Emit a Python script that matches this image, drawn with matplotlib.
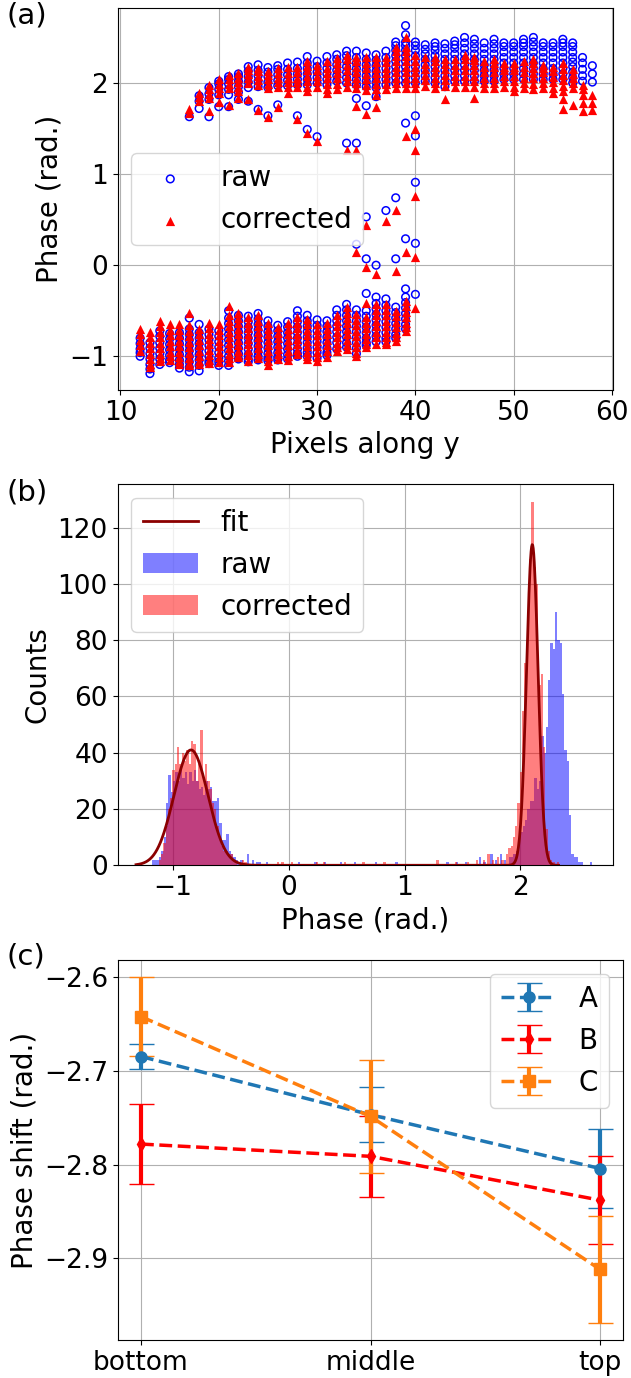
import matplotlib
matplotlib.use("Agg")
import matplotlib.pyplot as plt
import numpy as np

# ---------------- panel (a): phase per pixel column ----------------
cols_lower = list(range(12, 41))
raw_lower = [
    [-0.80, -0.86, -0.92, -0.96, -1.00],
    [-0.85, -0.91, -0.97, -1.03, -1.09, -1.14, -1.19],
    [-0.72, -0.78, -0.85, -0.91, -0.97, -1.03, -1.09],
    [-0.75, -0.81, -0.87, -0.93, -0.99, -1.04, -1.07],
    [-0.74, -0.80, -0.86, -0.92, -0.98, -1.04, -1.09, -1.13],
    [-0.58, -0.70, -0.76, -0.82, -0.88, -0.94, -1.00, -1.06, -1.12, -1.17],
    [-0.65, -0.74, -0.80, -0.86, -0.92, -0.98, -1.04, -1.10, -1.16],
    [-0.70, -0.76, -0.82, -0.88, -0.94, -1.00, -1.05, -1.08],
    [-0.72, -0.78, -0.84, -0.90, -0.96, -1.02, -1.06, -1.10],
    [-0.50, -0.58, -0.64, -0.70, -0.76, -0.82, -0.88, -0.94, -1.00, -1.05, -1.10],
    [-0.55, -0.61, -0.67, -0.73, -0.79, -0.85, -0.91, -0.97, -1.03],
    [-0.56, -0.62, -0.68, -0.74, -0.80, -0.86, -0.92, -0.98, -1.03, -1.06],
    [-0.53, -0.59, -0.65, -0.71, -0.77, -0.83, -0.89, -0.95, -1.00, -1.04],
    [-0.61, -0.67, -0.73, -0.79, -0.85, -0.91, -0.97, -1.02, -1.05],
    [-0.66, -0.72, -0.78, -0.84, -0.90, -0.96, -1.01, -1.04],
    [-0.62, -0.68, -0.74, -0.80, -0.86, -0.92, -0.98, -1.03],
    [-0.50, -0.56, -0.62, -0.68, -0.74, -0.80, -0.86, -0.92, -0.97, -1.00],
    [-0.55, -0.61, -0.67, -0.73, -0.79, -0.85, -0.91, -0.96, -1.00],
    [-0.60, -0.66, -0.72, -0.78, -0.84, -0.90, -0.96, -1.02],
    [-0.61, -0.67, -0.73, -0.79, -0.85, -0.91, -0.96, -0.99],
    [-0.49, -0.55, -0.61, -0.67, -0.73, -0.79, -0.85, -0.92],
    [-0.43, -0.49, -0.55, -0.61, -0.67, -0.73, -0.79, -0.85, -0.90],
    [-0.49, -0.55, -0.61, -0.67, -0.73, -0.79, -0.85, -0.91, -0.97],
    [-0.31, -0.50, -0.56, -0.62, -0.68, -0.74, -0.80, -0.85, -0.88],
    [-0.35, -0.42, -0.48, -0.54, -0.60, -0.66, -0.72, -0.78, -0.84],
    [-0.37, -0.44, -0.50, -0.56, -0.62, -0.68, -0.74, -0.80, -0.84],
    [-0.46, -0.52, -0.58, -0.64, -0.70, -0.76, -0.80],
    [-0.26, -0.35, -0.41, -0.47, -0.53, -0.59, -0.65, -0.70],
    [-0.32],
]
cor_lower = [
    [-0.70, -0.76, -0.82, -0.88, -0.94],
    [-0.73, -0.79, -0.85, -0.91, -0.97, -1.03, -1.08, -1.12],
    [-0.61, -0.67, -0.73, -0.79, -0.85, -0.91, -0.97, -1.02, -1.05],
    [-0.65, -0.71, -0.77, -0.83, -0.89, -0.95, -1.00, -1.04],
    [-0.65, -0.71, -0.77, -0.83, -0.89, -0.95, -1.01, -1.05, -1.08],
    [-0.53, -0.66, -0.72, -0.78, -0.84, -0.90, -0.96, -1.02, -1.07, -1.10],
    [-0.70, -0.76, -0.82, -0.88, -0.94, -1.00, -1.05, -1.08],
    [-0.63, -0.69, -0.75, -0.81, -0.87, -0.93, -0.99, -1.04, -1.07],
    [-0.65, -0.71, -0.77, -0.83, -0.89, -0.95, -1.01, -1.06],
    [-0.45, -0.55, -0.61, -0.67, -0.73, -0.79, -0.85, -0.91, -0.97, -1.02, -1.06],
    [-0.52, -0.58, -0.64, -0.70, -0.76, -0.82, -0.88, -0.94, -0.99, -1.01],
    [-0.57, -0.63, -0.69, -0.75, -0.81, -0.87, -0.93, -0.99, -1.05],
    [-0.55, -0.61, -0.67, -0.73, -0.79, -0.85, -0.91, -0.97, -1.02],
    [-0.64, -0.70, -0.76, -0.82, -0.88, -0.94, -1.00, -1.05, -1.10],
    [-0.68, -0.74, -0.80, -0.86, -0.92, -0.98, -1.03],
    [-0.64, -0.70, -0.76, -0.82, -0.88, -0.94, -1.00, -1.04],
    [-0.57, -0.63, -0.69, -0.75, -0.81, -0.87, -0.93, -0.98],
    [-0.59, -0.65, -0.71, -0.77, -0.83, -0.89, -0.95, -1.00, -1.03],
    [-0.65, -0.71, -0.77, -0.83, -0.89, -0.95, -1.01, -1.05],
    [-0.64, -0.70, -0.76, -0.82, -0.88, -0.94, -1.01],
    [-0.55, -0.61, -0.67, -0.73, -0.79, -0.85, -0.90, -0.94],
    [-0.46, -0.52, -0.58, -0.64, -0.70, -0.76, -0.82, -0.88, -0.92],
    [-0.54, -0.60, -0.66, -0.72, -0.78, -0.84, -0.90, -0.96, -1.00],
    [-0.41, -0.57, -0.63, -0.69, -0.75, -0.81, -0.86, -0.90],
    [-0.43, -0.49, -0.55, -0.61, -0.67, -0.73, -0.79, -0.86],
    [-0.43, -0.49, -0.55, -0.61, -0.67, -0.73, -0.79, -0.84, -0.87],
    [-0.50, -0.56, -0.62, -0.68, -0.74, -0.79, -0.83],
    [-0.39, -0.45, -0.51, -0.57, -0.63, -0.68, -0.72],
    [-0.47],
]

cols_upper = list(range(17, 59))
raw_upper = [
    [1.63],
    [1.72, 1.80, 1.86],
    [1.63, 1.82, 1.88, 1.95],
    [1.74, 1.87, 1.93, 1.99, 2.02],
    [1.74, 1.87, 1.93, 1.99, 2.04, 2.07],
    [1.82, 1.90, 1.96, 2.02, 2.07, 2.10],
    [1.80, 1.95, 2.01, 2.07, 2.13, 2.18],
    [1.96, 2.02, 2.08, 2.14, 2.20],
    [1.95, 2.01, 2.07, 2.12, 2.17],
    [1.97, 2.03, 2.09, 2.15, 2.19],
    [1.97, 2.03, 2.09, 2.15, 2.22],
    [1.98, 2.04, 2.10, 2.16, 2.23],
    [1.98, 2.04, 2.10, 2.16, 2.22, 2.29],
    [2.00, 2.06, 2.12, 2.18, 2.24],
    [1.98, 2.04, 2.10, 2.16, 2.22, 2.29],
    [2.02, 2.08, 2.14, 2.20, 2.26, 2.31],
    [2.00, 2.06, 2.12, 2.18, 2.24, 2.30, 2.35],
    [1.98, 2.04, 2.10, 2.16, 2.22, 2.28, 2.35],
    [1.96, 2.02, 2.08, 2.14, 2.20, 2.26, 2.33],
    [1.95, 2.01, 2.07, 2.13, 2.19, 2.25, 2.31],
    [1.98, 2.04, 2.10, 2.16, 2.22, 2.28, 2.35],
    [2.00, 2.06, 2.12, 2.18, 2.24, 2.30, 2.36, 2.41, 2.45],
    [2.00, 2.06, 2.12, 2.18, 2.24, 2.30, 2.36, 2.41, 2.45, 2.53, 2.63],
    [2.00, 2.06, 2.12, 2.18, 2.24, 2.30, 2.36, 2.41, 2.45],
    [2.02, 2.08, 2.14, 2.20, 2.26, 2.32, 2.37, 2.42],
    [2.00, 2.06, 2.12, 2.18, 2.24, 2.30, 2.36, 2.40, 2.44],
    [1.96, 2.02, 2.08, 2.14, 2.20, 2.26, 2.32, 2.38, 2.43],
    [2.02, 2.08, 2.14, 2.20, 2.26, 2.32, 2.38, 2.42, 2.46],
    [2.02, 2.08, 2.14, 2.20, 2.26, 2.32, 2.38, 2.44, 2.50],
    [2.02, 2.08, 2.14, 2.20, 2.26, 2.32, 2.38, 2.43, 2.48],
    [2.02, 2.08, 2.14, 2.20, 2.26, 2.32, 2.38, 2.44],
    [2.02, 2.08, 2.14, 2.20, 2.26, 2.32, 2.38, 2.43, 2.48],
    [2.04, 2.10, 2.16, 2.22, 2.28, 2.34, 2.40, 2.44],
    [2.04, 2.10, 2.16, 2.22, 2.28, 2.34, 2.40, 2.44],
    [2.04, 2.10, 2.16, 2.22, 2.28, 2.34, 2.40, 2.44, 2.48],
    [2.04, 2.10, 2.16, 2.22, 2.28, 2.34, 2.40, 2.45, 2.50],
    [2.04, 2.10, 2.16, 2.22, 2.28, 2.34, 2.40, 2.44],
    [2.04, 2.10, 2.16, 2.22, 2.28, 2.34, 2.40, 2.44],
    [2.04, 2.10, 2.16, 2.22, 2.28, 2.34, 2.40, 2.44, 2.48],
    [2.00, 2.06, 2.12, 2.18, 2.23, 2.28, 2.34, 2.40, 2.44],
    [2.02, 2.08, 2.15, 2.22, 2.28],
    [2.01, 2.10, 2.19],
]
cor_upper = [
    [1.67, 1.71],
    [1.80, 1.85, 1.89],
    [1.69, 1.83, 1.88, 1.93, 1.98],
    [1.79, 1.89, 1.94, 1.99, 2.04],
    [1.76, 1.94, 1.99, 2.04, 2.09],
    [1.83, 1.91, 1.96, 2.01, 2.06, 2.11],
    [1.82, 2.00, 2.05, 2.10, 2.14, 2.18],
    [1.98, 2.03, 2.08, 2.13, 2.17],
    [1.94, 1.99, 2.04, 2.09, 2.13],
    [1.96, 2.01, 2.06, 2.11, 2.17],
    [1.89, 1.96, 2.01, 2.06, 2.11, 2.18],
    [1.96, 2.01, 2.06, 2.12, 2.18],
    [1.91, 1.96, 2.02, 2.08, 2.14, 2.19, 2.24],
    [1.96, 2.02, 2.08, 2.14, 2.20],
    [1.89, 1.93, 1.99, 2.05, 2.11, 2.17, 2.24],
    [1.93, 1.99, 2.05, 2.11, 2.17, 2.22, 2.27],
    [1.96, 2.02, 2.08, 2.14, 2.20, 2.26, 2.31],
    [1.94, 2.00, 2.06, 2.12, 2.18, 2.24, 2.29],
    [1.92, 1.98, 2.04, 2.10, 2.16, 2.22, 2.28],
    [1.87, 1.93, 1.99, 2.05, 2.11, 2.17, 2.23, 2.28],
    [1.93, 1.99, 2.05, 2.11, 2.17, 2.23, 2.29],
    [1.94, 2.00, 2.06, 2.12, 2.18, 2.24, 2.30, 2.35, 2.40],
    [1.94, 2.00, 2.06, 2.12, 2.18, 2.24, 2.30, 2.35, 2.40, 2.50],
    [1.94, 2.00, 2.06, 2.12, 2.18, 2.24, 2.31],
    [1.97, 2.03, 2.09, 2.15, 2.21, 2.29],
    [1.94, 2.00, 2.06, 2.12, 2.18, 2.24, 2.29],
    [1.82, 1.97, 2.03, 2.09, 2.15, 2.21, 2.26],
    [1.96, 2.02, 2.08, 2.14, 2.20, 2.26],
    [1.96, 2.02, 2.08, 2.14, 2.20, 2.26, 2.31],
    [1.83, 1.96, 2.02, 2.08, 2.14, 2.20, 2.25, 2.29],
    [1.94, 2.00, 2.06, 2.12, 2.18, 2.24],
    [1.94, 2.00, 2.06, 2.12, 2.18, 2.22, 2.26],
    [1.96, 2.02, 2.08, 2.14, 2.18, 2.22],
    [1.91, 1.96, 2.02, 2.08, 2.14, 2.18, 2.22],
    [1.94, 2.00, 2.06, 2.12, 2.18, 2.24],
    [1.93, 1.99, 2.05, 2.11, 2.17, 2.22, 2.26],
    [1.94, 2.00, 2.06, 2.12, 2.16, 2.20],
    [1.89, 1.95, 2.01, 2.07, 2.13, 2.18],
    [1.72, 1.82, 1.91, 1.97, 2.03, 2.09, 2.15, 2.22],
    [1.76, 1.94, 2.00, 2.05, 2.10, 2.15],
    [1.69, 1.78, 1.87, 1.93, 1.98],
    [1.70, 1.78, 1.87],
]

# points lying between the two branches
jump_x = [24, 25, 26, 28, 29, 30, 33, 34, 34, 35, 36, 39, 40, 40, 40, 38,
          37, 35, 34, 35, 36, 38, 39, 40]
jump_raw = [1.71, 1.64, 1.76, 1.64, 1.49, 1.41, 1.34, 1.34, 1.83, 1.75, 1.85,
            1.56, 1.64, 1.42, 0.91, 0.74, 0.60, 0.53, 0.23, 0.07, 0.00, 0.07,
            0.29, 0.24]
jump_cor = [1.70, 1.63, 1.74, 1.60, 1.45, 1.36, 1.26, 1.26, 1.75, 1.66, 1.74,
            1.42, 1.49, 1.27, 0.76, 0.61, 0.49, 0.44, 0.14, -0.02, -0.10, -0.06,
            0.15, 0.09]

# ---------------- panel (b): histogram ----------------
bin_w = 0.02
raw_centers = [-1.17, -1.15, -1.13, -1.11, -1.09, -1.07, -1.05, -1.03, -1.01,
               -0.99, -0.97, -0.95, -0.93, -0.91, -0.89, -0.87, -0.85, -0.83,
               -0.81, -0.79, -0.77, -0.75, -0.73, -0.71, -0.69, -0.67, -0.65,
               -0.63, -0.61, -0.59, -0.57, -0.55, -0.53, -0.51, -0.49, -0.47,
               -0.45, -0.43, -0.41, -0.35, -0.31, -0.27, -0.25, -0.19,
               0.09, 0.23, 0.31, 0.45, 0.57, 0.75, 0.93, 1.37, 1.45, 1.53,
               1.65, 1.69, 1.75, 1.79, 1.83, 1.87, 1.91, 1.93, 1.95, 1.97,
               1.99, 2.01, 2.03, 2.05, 2.07, 2.09, 2.11, 2.13, 2.15, 2.17,
               2.19, 2.21, 2.23, 2.25, 2.27, 2.29, 2.31, 2.33, 2.35, 2.37,
               2.39, 2.41, 2.43, 2.45, 2.47, 2.49, 2.51, 2.53, 2.61]
raw_counts = [2, 2, 2, 3, 5, 10, 22, 32, 26,
              30, 33, 30, 35, 31, 33, 29, 33, 30,
              34, 30, 27, 28, 25, 30, 27, 28, 23,
              23, 24, 15, 9, 9, 11, 5, 4, 3,
              2, 1, 2, 4, 2, 1, 1, 1,
              1, 1, 1, 1, 1, 1, 1, 1, 1, 1,
              3, 1, 4, 2, 4, 2, 3, 3, 4, 5,
              8, 12, 14, 16, 20, 23, 23, 31, 27, 30,
              46, 40, 49, 66, 79, 77, 90, 80, 79, 61,
              41, 37, 18, 4, 3, 3, 1, 1, 1]

cor_centers = [-1.115, -1.095, -1.075, -1.055, -1.035, -1.015, -0.995, -0.975,
               -0.955, -0.935, -0.915, -0.895, -0.875, -0.855, -0.835, -0.815,
               -0.795, -0.775, -0.755, -0.735, -0.715, -0.695, -0.675, -0.655,
               -0.635, -0.615, -0.595, -0.575, -0.555, -0.535, -0.515, -0.495,
               -0.475, -0.455, -0.395, -0.375,
               -0.095, -0.055, 0.025, 0.245, 0.305, 0.485, 0.645, 0.825,
               1.285, 1.445, 1.545, 1.625, 1.685, 1.725, 1.765, 1.805, 1.845,
               1.885, 1.905, 1.925, 1.945, 1.965, 1.985, 2.005, 2.025, 2.045,
               2.065, 2.085, 2.105, 2.125, 2.145, 2.165, 2.185, 2.205, 2.225,
               2.245, 2.265, 2.285, 2.325]
cor_counts = [2, 4, 8, 14, 20, 24, 34, 36,
              42, 36, 40, 37, 41, 36, 44, 43,
              30, 36, 48, 31, 36, 30, 27, 22,
              20, 14, 9, 7, 5, 5, 4, 4,
              2, 1, 2, 1,
              1, 1, 1, 1, 1, 1, 1, 1,
              2, 1, 1, 2, 2, 4, 2, 3, 2,
              4, 6, 7, 10, 14, 22, 33, 55, 72,
              88, 109, 129, 106, 100, 64, 68, 42, 13,
              5, 2, 1, 1]

# double gaussian fit parameters
fit_amp = [41.0, 114.0]
fit_mu = [-0.845, 2.103]
fit_sigma = [0.147, 0.050]
fit_range = (-1.32, 2.33)

# ---------------- panel (c): phase shift ----------------
positions = ["bottom", "middle", "top"]
shift_A = [-2.6845, -2.7466, -2.804]
err_A = [0.0137, 0.0295, 0.0417]
shift_B = [-2.7779, -2.791, -2.8378]
err_B = [0.0428, 0.0433, 0.0467]
shift_C = [-2.6419, -2.7484, -2.9117]
err_C = [0.042, 0.060, 0.057]

TICK = 19
LAB = 20
LEG = 20

W, H = 631, 1378
fig = plt.figure(figsize=(W / 100, H / 100), dpi=100)


def box(l, r, t, b):
    return [l / W, 1 - b / H, (r - l) / W, (b - t) / H]


# (a)
ax1 = fig.add_axes(box(117.5, 613, 8.3, 390))
xl, yl = [], []
for c, vals in zip(cols_lower, raw_lower):
    xl += [c] * len(vals)
    yl += vals
for c, vals in zip(cols_upper, raw_upper):
    xl += [c] * len(vals)
    yl += vals
xl += jump_x
yl += jump_raw
xc, yc = [], []
for c, vals in zip(cols_lower, cor_lower):
    xc += [c] * len(vals)
    yc += vals
for c, vals in zip(cols_upper, cor_upper):
    xc += [c] * len(vals)
    yc += vals
xc += jump_x
yc += jump_cor

ax1.scatter(xl, yl, s=30, facecolors="none", edgecolors="b", linewidths=1.1,
            label="raw", zorder=3)
ax1.scatter(xc, yc, s=44, marker="^", color="r", linewidths=0, label="corrected",
            zorder=4)
ax1.set_xlim(9.7, 60.1)
ax1.set_ylim(-1.37, 2.82)
ax1.set_xticks([10, 20, 30, 40, 50, 60])
ax1.set_yticks([-1, 0, 1, 2])
ax1.grid(True)
ax1.set_axisbelow(True)
ax1.tick_params(labelsize=TICK)
ax1.set_xlabel("Pixels along y", fontsize=LAB)
ax1.set_ylabel("Phase (rad.)", fontsize=LAB)
ax1.legend(loc="center left", fontsize=LEG)

# (b)
ax2 = fig.add_axes(box(117.5, 613, 484, 865.3))
b_raw = ax2.bar(raw_centers, raw_counts, width=bin_w, color="b", alpha=0.5,
                label="raw", zorder=2)
b_cor = ax2.bar(cor_centers, cor_counts, width=bin_w, color="r", alpha=0.5,
                label="corrected", zorder=3)
xf = np.linspace(fit_range[0], fit_range[1], 800)
yf = sum(a * np.exp(-(xf - m) ** 2 / (2 * s ** 2))
         for a, m, s in zip(fit_amp, fit_mu, fit_sigma))
l_fit, = ax2.plot(xf, yf, color="darkred", lw=2, label="fit", zorder=4)
ax2.set_xlim(-1.48, 2.80)
ax2.set_ylim(0, 135.5)
ax2.set_xticks([-1, 0, 1, 2])
ax2.set_yticks([0, 20, 40, 60, 80, 100, 120])
ax2.grid(True)
ax2.set_axisbelow(True)
ax2.tick_params(labelsize=TICK)
ax2.set_xlabel("Phase (rad.)", fontsize=LAB)
ax2.set_ylabel("Counts", fontsize=LAB)
ax2.legend([l_fit, b_raw, b_cor], ["fit", "raw", "corrected"], loc="upper left",
           fontsize=LEG)

# (c)
ax3 = fig.add_axes(box(118, 623, 960, 1340))
xpos = np.arange(len(positions))
ax3.errorbar(xpos, shift_A, yerr=err_A, fmt="--o", color="tab:blue", lw=2.5,
             elinewidth=3, capsize=9, ms=8, label="A")
ax3.errorbar(xpos, shift_B, yerr=err_B, fmt="--d", color="r", lw=2.5,
             elinewidth=3, capsize=9, ms=7, label="B")
ax3.errorbar(xpos, shift_C, yerr=err_C, fmt="--s", color="tab:orange", lw=2.5,
             elinewidth=3, capsize=9, ms=8, label="C")
ax3.set_xticks(xpos)
ax3.set_xticklabels(positions)
ax3.set_yticks([-2.9, -2.8, -2.7, -2.6])
ax3.set_xlim(-0.1, 2.1)
ax3.set_ylim(-2.987, -2.5815)
ax3.grid(True)
ax3.tick_params(labelsize=TICK)
ax3.set_ylabel("Phase shift (rad.)", fontsize=LAB)
ax3.legend(loc="upper right", fontsize=LEG)

fig.text(0.010, 0.999, "(a)", fontsize=21, va="top")
fig.text(0.010, 0.653, "(b)", fontsize=21, va="top")
fig.text(0.010, 0.316, "(c)", fontsize=21, va="top")

fig.savefig("out.png", dpi=100)
